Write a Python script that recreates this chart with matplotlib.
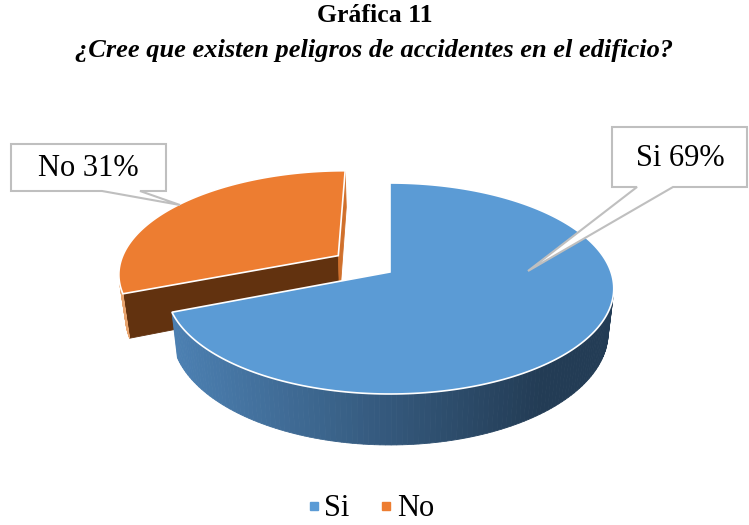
import numpy as np
import matplotlib.pyplot as plt
from matplotlib.patches import Polygon
from matplotlib.lines import Line2D

# survey answers
labels = ["Si", "No"]
values = [69, 31]
explode = [0.0, 0.29]

top_colors = ["#5B9BD5", "#ED7D31"]
start_face_colors = ["#3A6A98", "#62320F"]
end_face_colors = ["#3A6A98", "#D0702C"]

plt.rcParams["font.family"] = ["Liberation Serif", "DejaVu Serif"]

# pie geometry in pixel units, simple perspective
CX, CY = 390.0, 272.0
RX, RY = 221.0, 102.9
K = 0.1565          # perspective strength along depth
DEPTH = 43.0        # thickness of the disc
SHRINK = 0.975      # lower rim is a bit further from the camera


def project(X, Y, bottom=False):
    X = np.asarray(X, dtype=float)
    Y = np.asarray(Y, dtype=float)
    w = 1 - K * Y
    x = CX + RX * X / w
    y = CY + RY * Y / w
    if bottom:
        x = CX + (x - CX) * SHRINK
        y = y + DEPTH / w
    return np.column_stack([np.atleast_1d(x), np.atleast_1d(y)])


def signed_area(pts):
    x, y = pts[:, 0], pts[:, 1]
    return np.sum(x * np.roll(y, -1) - np.roll(x, -1) * y)


def blue_side(xm):
    t = np.clip((xm - 175) / (540 - 175), 0, 1)
    c0 = np.array([76, 128, 178]) / 255
    c1 = np.array([35, 60, 85]) / 255
    return tuple(c0 + (c1 - c0) * t)


def side_color(i, xm):
    if i == 0:
        return blue_side(xm)
    return "#E8A46E"


fig = plt.figure(figsize=(7.49, 5.25), dpi=100)
ax = fig.add_axes([0, 0, 1, 1])
ax.set_xlim(0, 749)
ax.set_ylim(525, 0)
ax.axis("off")

fracs = np.array(values, dtype=float) / sum(values)
bounds = np.concatenate([[0], np.cumsum(fracs)]) * 2 * np.pi

# back slice first, front slice last
for i in sorted(range(len(values)), key=lambda j: -j):
    phi0, phi1 = bounds[i], bounds[i + 1]
    mid = (phi0 + phi1) / 2
    ox, oy = explode[i] * np.sin(mid), -explode[i] * np.cos(mid)

    phis = np.linspace(phi0, phi1, 200)
    X = ox + np.sin(phis)
    Y = oy - np.cos(phis)
    top = project(X, Y)
    bot = project(X, Y, bottom=True)
    ctop = project(ox, oy)[0]
    cbot = project(ox, oy, bottom=True)[0]

    faces = []
    faces.append((np.array([ctop, top[0], bot[0], cbot]), start_face_colors[i]))
    faces.append((np.array([top[-1], ctop, cbot, bot[-1]]), end_face_colors[i]))
    for k in range(len(phis) - 1):
        quad = np.array([top[k], top[k + 1], bot[k + 1], bot[k]])
        faces.append((quad, side_color(i, quad[:, 0].mean())))

    for quad, col in faces:
        if signed_area(quad) < -1e-3:
            ax.add_patch(Polygon(quad, closed=True, facecolor=col,
                                 edgecolor=col, lw=0.6, zorder=2))

    ax.add_patch(Polygon(np.vstack([ctop, top]), closed=True,
                         facecolor=top_colors[i], edgecolor="white",
                         lw=1.2, zorder=3))

# callouts
callouts = {
    "No": [(11, 144), (166, 144), (166, 191), (140, 191), (180, 205),
           (102, 191), (11, 191)],
    "Si": [(612, 127), (747, 127), (747, 187), (673, 187), (528, 271),
           (637, 187), (612, 187)],
}
text_pos = {"No": (88.5, 168), "Si": (680, 158)}
for lab, val in zip(labels, values):
    ax.add_patch(Polygon(callouts[lab], closed=True, facecolor="white",
                         edgecolor="#BFBFBF", lw=1.5, zorder=5))
    ax.text(*text_pos[lab], f"{lab} {val}%", fontsize=22, ha="center",
            va="center", zorder=6)

fig.text(375 / 749, 1 - 16 / 525, "Gráfica 11", fontsize=18.5,
         fontweight="bold", ha="center", va="center")
fig.text(374 / 749, 1 - 50 / 525,
         "¿Cree que existen peligros de accidentes en el edificio?",
         fontsize=19, fontweight="bold", fontstyle="italic",
         ha="center", va="center")

handles = [Line2D([], [], marker="s", linestyle="none", markersize=6,
                  markerfacecolor=c, markeredgecolor=c) for c in top_colors]
fig.legend(handles, labels, loc="center", ncol=2, frameon=False,
           bbox_to_anchor=(371 / 749, 1 - 509 / 525), fontsize=22,
           handlelength=0.4, handletextpad=0.15, columnspacing=1.0,
           borderpad=0.1)

fig.savefig("out.png", dpi=100)
